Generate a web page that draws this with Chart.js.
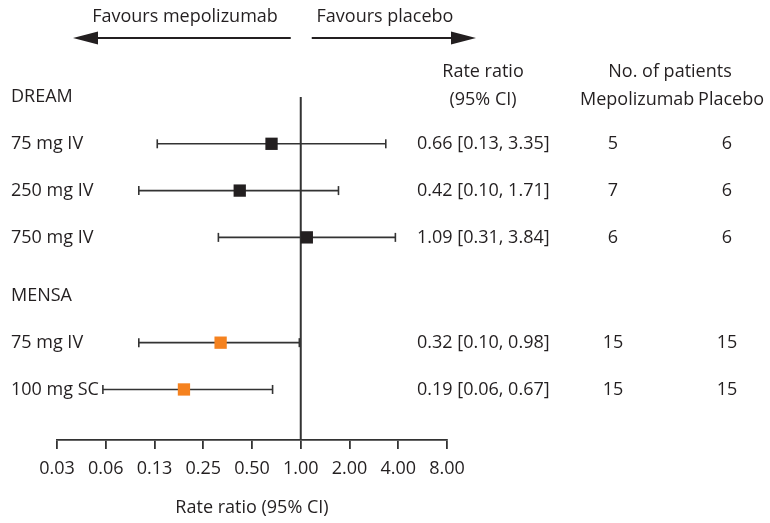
<!DOCTYPE html>
<html>
<head>
<meta charset="utf-8">
<script src="https://cdn.jsdelivr.net/npm/chart.js@4/dist/chart.umd.min.js"></script>
<style>
  body { margin: 0; background: #fff; }
  #wrap { width: 770px; height: 523px; }
</style>
</head>
<body>
<div id="wrap"><canvas id="forest" width="770" height="523"></canvas></div>
<script>
// Forest plot data (rate ratios with 95% CI)
const groups = ['DREAM', 'MENSA'];
const rowGroup = [0, 0, 0, 1, 1];
const rowLabels = ['75 mg IV', '250 mg IV', '750 mg IV', '75 mg IV', '100 mg SC'];
const rateRatio = [0.66, 0.42, 1.09, 0.32, 0.19];
const ciLow = [0.13, 0.10, 0.31, 0.10, 0.06];
const ciHigh = [3.35, 1.71, 3.84, 0.98, 0.67];
const nMepolizumab = [5, 7, 6, 15, 15];
const nPlacebo = [6, 6, 6, 15, 15];
const tickLabels = ['0.03', '0.06', '0.13', '0.25', '0.50', '1.00', '2.00', '4.00', '8.00'];

// row positions on the y axis (group headers sit above their rows)
const headerPos = [0, 4.25];
const rowPos = [1, 2, 3, 5.25, 6.25];
const yMax = 7.33;

const ink = '#231f20';
const lineCol = '#333333';
const groupColors = ['#231f20', '#f5821f'];
const font = '"Open Sans", sans-serif';

const ciDatasets = rowLabels.map(function(label, i) {
    return {
        type: 'line',
        data: [{x: Math.log2(ciLow[i]), y: rowPos[i]}, {x: Math.log2(ciHigh[i]), y: rowPos[i]}],
        borderColor: lineCol,
        borderWidth: 1.6,
        pointStyle: 'line',
        rotation: 90,
        pointRadius: 4.5,
        pointBorderWidth: 1.6,
        pointBorderColor: lineCol,
        order: 1
    };
});

// text columns, headers and the "favours" arrows
const textPlugin = {
    id: 'forestText',
    afterDraw: function(chart) {
        const ctx = chart.ctx;
        const y = chart.scales.y;
        const x = chart.scales.x;
        ctx.save();
        ctx.fillStyle = ink;
        ctx.font = '18px ' + font;
        ctx.textBaseline = 'middle';

        // group headers and row labels
        ctx.textAlign = 'left';
        groups.forEach(function(g, i) {
            ctx.fillText(g, 11, y.getPixelForValue(headerPos[i]));
        });
        rowLabels.forEach(function(label, i) {
            ctx.fillText(label, 11, y.getPixelForValue(rowPos[i]));
        });

        // column headers
        ctx.textAlign = 'center';
        ctx.fillText('Rate ratio', 483, 72);
        ctx.fillText('(95% CI)', 483, 100);
        ctx.fillText('No. of patients', 670, 72);
        ctx.textAlign = 'left';
        ctx.fillText('Mepolizumab', 580, 100);
        ctx.textAlign = 'right';
        ctx.fillText('Placebo', 764, 100);

        // values
        rowLabels.forEach(function(label, i) {
            const py = y.getPixelForValue(rowPos[i]);
            ctx.textAlign = 'left';
            ctx.fillText(rateRatio[i].toFixed(2) + ' [' + ciLow[i].toFixed(2) + ', ' + ciHigh[i].toFixed(2) + ']', 417, py);
            ctx.textAlign = 'center';
            ctx.fillText(String(nMepolizumab[i]), 613, py);
            ctx.fillText(String(nPlacebo[i]), 727, py);
        });

        // favours labels + arrows
        const mid = x.getPixelForValue(0);
        ctx.textAlign = 'center';
        ctx.fillText('Favours mepolizumab', 185, 17);
        ctx.fillText('Favours placebo', 385, 17);

        ctx.strokeStyle = ink;
        ctx.lineWidth = 2;
        ctx.beginPath();
        ctx.moveTo(mid - 10, 38);
        ctx.lineTo(90, 38);
        ctx.moveTo(mid + 11, 38);
        ctx.lineTo(460, 38);
        ctx.stroke();
        ctx.beginPath();
        ctx.moveTo(73, 38);
        ctx.lineTo(98, 31.5);
        ctx.lineTo(98, 44.5);
        ctx.closePath();
        ctx.moveTo(476, 38);
        ctx.lineTo(451, 31.5);
        ctx.lineTo(451, 44.5);
        ctx.closePath();
        ctx.fill();
        ctx.restore();
    }
};

new Chart(document.getElementById('forest'), {
    type: 'scatter',
    data: {
        datasets: [
            {
                // point estimates
                data: rateRatio.map(function(v, i) { return {x: Math.log2(v), y: rowPos[i]}; }),
                pointStyle: 'rect',
                pointRadius: 8.7,
                pointHoverRadius: 8.7,
                backgroundColor: rowGroup.map(function(g) { return groupColors[g]; }),
                borderWidth: 0,
                order: 0
            },
            {
                // line of no effect
                type: 'line',
                data: [{x: 0, y: 0}, {x: 0, y: yMax}],
                borderColor: lineCol,
                borderWidth: 2,
                pointRadius: 0,
                order: 2
            }
        ].concat(ciDatasets)
    },
    options: {
        responsive: false,
        animation: false,
        clip: false,
        layout: {
            padding: {left: 57, right: 323, top: 97, bottom: 0}
        },
        plugins: {
            legend: {display: false},
            tooltip: {enabled: false}
        },
        scales: {
            x: {
                type: 'linear',
                min: -5,
                max: 3,
                afterFit: function(scale) { scale.height = 83; },
                grid: {
                    drawOnChartArea: false,
                    drawTicks: true,
                    tickLength: 9,
                    color: lineCol,
                    lineWidth: 1.8
                },
                border: {display: true, color: lineCol, width: 1.8},
                ticks: {
                    stepSize: 1,
                    autoSkip: false,
                    maxRotation: 0,
                    padding: 9,
                    color: ink,
                    font: {family: font, size: 18},
                    callback: function(v) { return tickLabels[v + 5]; }
                },
                title: {
                    display: true,
                    text: 'Rate ratio (95% CI)',
                    color: ink,
                    font: {family: font, size: 18},
                    padding: {top: 0, bottom: 4}
                }
            },
            y: {
                type: 'linear',
                display: false,
                reverse: true,
                min: 0,
                max: yMax
            }
        }
    },
    plugins: [textPlugin]
});
</script>
</body>
</html>
